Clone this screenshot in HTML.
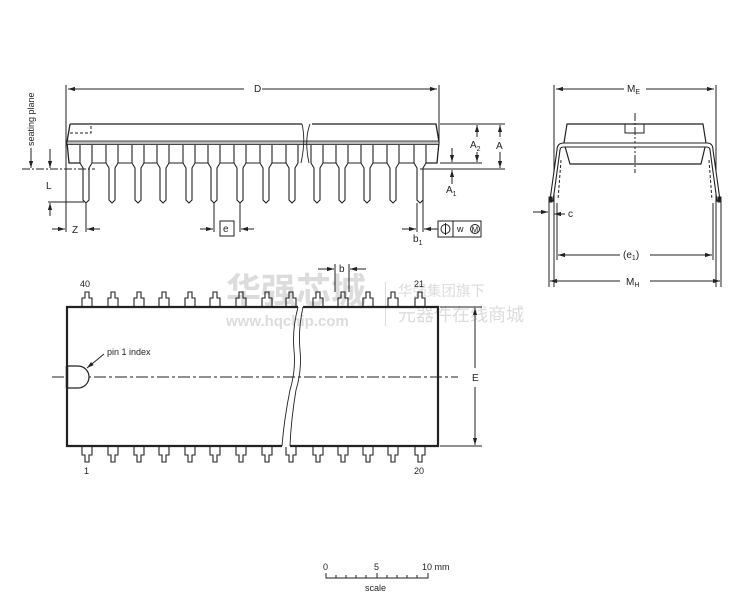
<!DOCTYPE html>
<html><head><meta charset="utf-8"><style>
html,body{margin:0;padding:0;background:#fff;}
svg{display:block;font-family:"Liberation Sans",Arial,sans-serif;}
</style></head><body>
<svg width="753" height="605" viewBox="0 0 753 605" xmlns="http://www.w3.org/2000/svg">
<defs>
<marker id="ar" viewBox="0 0 10 10" refX="10" refY="5" markerWidth="7" markerHeight="7" orient="auto-start-reverse"><path d="M0,2 L10,5 L0,8 z" fill="#222"/></marker>
</defs>
<!-- watermark -->
<g fill="#dcdcdc" font-family="'Noto Sans CJK SC',sans-serif">
<text x="226" y="303" font-size="35" font-weight="bold">华强芯城</text>
<text x="226" y="326" font-size="15" font-weight="bold" font-family="'Liberation Sans',sans-serif">www.hqchip.com</text>
<rect x="385" y="282" width="1" height="44"/>
<text x="398" y="296" font-size="14.5">华强集团旗下</text>
<text x="398" y="321" font-size="18">元器件在线商城</text>
</g>
<g stroke="#222" fill="none" stroke-width="1">
<!-- ===== side view ===== -->
<line x1="66" y1="85" x2="66" y2="232"/>
<line x1="439" y1="85" x2="439" y2="142"/>
<line x1="68" y1="89" x2="244" y2="89" marker-start="url(#ar)"/>
<line x1="262" y1="89" x2="437" y2="89" marker-end="url(#ar)"/>
<path d="M70,124 L302,124 M312,124 L436,124 L439,142 L437,163 L420,163" stroke-width="1.3"/>
<path d="M70,124 L67,142 L69,163 L80,163" stroke-width="1.3"/>
<rect x="67" y="141" width="372" height="3.5" fill="#bbb" stroke="#222" stroke-width="0.8"/>
<path d="M70,133 L91,133 L91,124" stroke-dasharray="3,2"/>
<path d="M302,124 Q306,140 301,163 M310,124 Q304,140 309,163" stroke-width="0.9"/>
<g id="ld">
<path d="M80,145 L80,163 L83,168 L83,200 L86,203 L89,200 L89,168 L92,163 L92,145" fill="#fff" stroke-width="1.1"/>
</g>
<use href="#ld" x="26"/><use href="#ld" x="52"/><use href="#ld" x="77"/><use href="#ld" x="103"/><use href="#ld" x="128"/><use href="#ld" x="154"/><use href="#ld" x="180"/><use href="#ld" x="206" />
<use href="#ld" x="231"/><use href="#ld" x="256"/><use href="#ld" x="281"/><use href="#ld" x="307"/><use href="#ld" x="334"/>
<path d="M92,163 L106,163 M118,163 L132,163 M144,163 L157,163 M169,163 L183,163 M195,163 L208,163 M220,163 L234,163 M246,163 L260,163 M272,163 L286,163 M323,163 L336,163 M348,163 L361,163 M373,163 L387,163 M399,163 L414,163" />
<line x1="22" y1="169" x2="95" y2="169" stroke-dasharray="8,2,2,2"/>
<line x1="420" y1="169" x2="505" y2="169"/>
<line x1="440" y1="124" x2="505" y2="124"/>
<line x1="440" y1="163" x2="482" y2="163"/>
<line x1="31" y1="148" x2="31" y2="168" marker-end="url(#ar)"/>
<line x1="50" y1="149" x2="50" y2="168" marker-end="url(#ar)"/>
<line x1="50" y1="216" x2="50" y2="203" marker-end="url(#ar)"/>
<line x1="48" y1="202" x2="84" y2="202"/>
<line x1="52" y1="229" x2="65" y2="229" marker-end="url(#ar)"/>
<line x1="100" y1="229" x2="87" y2="229" marker-end="url(#ar)"/>
<line x1="86" y1="203" x2="86" y2="232"/>
<line x1="214" y1="203" x2="214" y2="232"/><line x1="240" y1="203" x2="240" y2="232"/>
<line x1="200" y1="229" x2="213" y2="229" marker-end="url(#ar)"/>
<line x1="254" y1="229" x2="241" y2="229" marker-end="url(#ar)"/>
<rect x="220" y="221" width="14" height="15"/>
<line x1="477" y1="137" x2="477" y2="125" marker-end="url(#ar)"/>
<line x1="477" y1="152" x2="477" y2="162" marker-end="url(#ar)"/>
<line x1="500" y1="137" x2="500" y2="125" marker-end="url(#ar)"/>
<line x1="500" y1="152" x2="500" y2="168" marker-end="url(#ar)"/>
<line x1="452" y1="148" x2="452" y2="162" marker-end="url(#ar)"/>
<line x1="452" y1="184" x2="452" y2="170" marker-end="url(#ar)"/>
<line x1="417" y1="203" x2="417" y2="232"/><line x1="423" y1="200" x2="423" y2="232"/>
<line x1="402" y1="229" x2="416" y2="229" marker-end="url(#ar)"/>
<line x1="438" y1="229" x2="424" y2="229" marker-end="url(#ar)"/>
<rect x="438" y="221" width="43" height="16"/>
<line x1="453" y1="221" x2="453" y2="237"/>
<circle cx="445.5" cy="229" r="4.5"/><line x1="445.5" y1="223" x2="445.5" y2="235"/>
<circle cx="475" cy="229" r="4.5"/>
<!-- ===== end view ===== -->
<line x1="554" y1="85" x2="554" y2="287"/>
<line x1="716" y1="85" x2="716" y2="287"/>
<line x1="556" y1="89" x2="624" y2="89" marker-start="url(#ar)"/>
<line x1="646" y1="89" x2="714" y2="89" marker-end="url(#ar)"/>
<path d="M567,124 L703,124 L706,143 L701,164 L570,164 L564,143 Z" stroke-width="1.2"/>
<rect x="625" y="124" width="19" height="9"/>
<line x1="635" y1="113" x2="635" y2="173" stroke-dasharray="8,2,2,2"/>
<path d="M566,143 L707,143 Q713,143 713,150 L720,200 L717,201 L710,150 Q710,147 706,147 L564,147 Q560,147 560,150 L553,201 L550,200 L557,150 Q557,143 564,143 Z" fill="#fff" stroke-width="1.1"/>
<path d="M561,160 L558,200 M709,160 L712,200" stroke-dasharray="3,2"/>
<rect x="549" y="197" width="3" height="5" fill="#222"/><rect x="718" y="197" width="3" height="5" fill="#222"/>
<line x1="549" y1="202" x2="549" y2="287"/><line x1="721" y1="202" x2="721" y2="287"/>
<line x1="557" y1="203" x2="557" y2="260"/><line x1="713" y1="203" x2="713" y2="260"/>
<line x1="533" y1="212" x2="548" y2="212" marker-end="url(#ar)"/>
<line x1="565" y1="214" x2="554" y2="214" marker-end="url(#ar)"/>
<line x1="558" y1="255" x2="620" y2="255" marker-start="url(#ar)"/>
<line x1="650" y1="255" x2="712" y2="255" marker-end="url(#ar)"/>
<line x1="550" y1="281" x2="620" y2="281" marker-start="url(#ar)"/>
<line x1="650" y1="281" x2="720" y2="281" marker-end="url(#ar)"/>
<!-- ===== plan view ===== -->
<path d="M298,307 L67,307 L67,446 L282,446" stroke-width="2.2"/>
<path d="M303,307 L438,307 L438,446 L290,446" stroke-width="2.2"/>
<path d="M298,307 Q292,330 294,350 Q296,370 290,390 Q284,420 282,446" stroke-width="0.9"/>
<path d="M303,307 Q298,330 300,350 Q302,370 296,390 Q291,420 290,446" stroke-width="0.9"/>
<line x1="52" y1="377" x2="458" y2="377" stroke-dasharray="12,3,3,3"/>
<path d="M67,366 L78,366 A11,11 0 0 1 78,388 L67,388" fill="#fff" stroke-width="1.2"/>
<line x1="67" y1="366" x2="67" y2="388" stroke-width="2.5"/>
<line x1="104" y1="354" x2="87" y2="368" marker-end="url(#ar)"/>
<g id="tp"><path d="M82,306 L82,298 L85,298 L85,292 L89,292 L89,298 L92,298 L92,306" stroke-width="1.1"/></g>
<use href="#tp" x="26"/><use href="#tp" x="52"/><use href="#tp" x="77"/><use href="#tp" x="103"/><use href="#tp" x="128"/><use href="#tp" x="154"/><use href="#tp" x="180"/><use href="#tp" x="204"/>
<use href="#tp" x="231"/><use href="#tp" x="256"/><use href="#tp" x="281"/><use href="#tp" x="306"/><use href="#tp" x="333"/>
<g id="bp"><path d="M82,447 L82,455 L85,455 L85,462 L89,462 L89,455 L92,455 L92,447" stroke-width="1.1"/></g>
<use href="#bp" x="26"/><use href="#bp" x="52"/><use href="#bp" x="77"/><use href="#bp" x="103"/><use href="#bp" x="128"/><use href="#bp" x="154"/><use href="#bp" x="180"/><use href="#bp" x="204"/>
<use href="#bp" x="231"/><use href="#bp" x="256"/><use href="#bp" x="281"/><use href="#bp" x="306"/><use href="#bp" x="333"/>
<line x1="440" y1="307" x2="482" y2="307"/><line x1="440" y1="446" x2="482" y2="446"/>
<line x1="475" y1="368" x2="475" y2="308" marker-end="url(#ar)"/>
<line x1="475" y1="387" x2="475" y2="445" marker-end="url(#ar)"/>
<line x1="335" y1="264" x2="335" y2="292"/><line x1="349" y1="264" x2="349" y2="292"/>
<line x1="318" y1="269" x2="334" y2="269" marker-end="url(#ar)"/>
<line x1="366" y1="269" x2="350" y2="269" marker-end="url(#ar)"/>
<path d="M326,573 L326,578 L428,578 L428,573"/>
<path d="M336,578v-3M346,578v-3M356,578v-3M366,578v-3M377,578v-5M387,578v-3M397,578v-3M407,578v-3M417,578v-3"/>
</g>
<g fill="#222" font-size="10">
<text x="254" y="92">D</text>
<text x="627" y="92">M<tspan font-size="7" dy="2">E</tspan></text>
<text x="0" y="0" transform="translate(34,146) rotate(-90)" font-size="9">seating plane</text>
<text x="46" y="189">L</text>
<text x="72" y="233">Z</text>
<text x="223" y="232">e</text>
<text x="470" y="148">A<tspan font-size="7" dy="3">2</tspan></text>
<text x="496" y="149">A</text>
<text x="446" y="193">A<tspan font-size="7" dy="3">1</tspan></text>
<text x="413" y="242">b<tspan font-size="7" dy="3">1</tspan></text>
<text x="457" y="232" font-size="9">w</text>
<text x="471.5" y="232.5" font-size="8">M</text>
<text x="568" y="217">c</text>
<text x="623" y="258">(e<tspan font-size="7" dy="2">1</tspan><tspan dy="-2">)</tspan></text>
<text x="626" y="285">M<tspan font-size="7" dy="2">H</tspan></text>
<text x="339" y="272">b</text>
<text x="80" y="287" font-size="9">40</text>
<text x="414" y="287" font-size="9">21</text>
<text x="84" y="474" font-size="9">1</text>
<text x="414" y="474" font-size="9">20</text>
<text x="107" y="355" font-size="9">pin 1 index</text>
<text x="472" y="381">E</text>
<text x="323" y="570" font-size="9">0</text>
<text x="374" y="570" font-size="9">5</text>
<text x="422" y="570" font-size="9">10 mm</text>
<text x="365" y="591" font-size="9">scale</text>
</g>
</svg>
</body></html>
